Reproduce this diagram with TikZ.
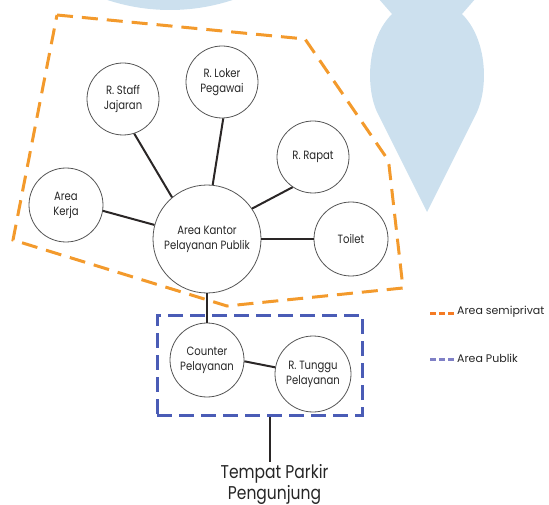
\documentclass[tikz,border=0pt]{standalone}
\usepackage{fontspec}
\setmainfont{Poppins}[FakeStretch=0.84]
\newfontfamily\legfont{Poppins}
\definecolor{bgblue}{HTML}{CCE0EE}
\definecolor{semior}{HTML}{F39A2C}
\definecolor{pubblue}{HTML}{4A5CB6}
\definecolor{legor}{HTML}{F47B24}
\definecolor{legblue}{HTML}{7F80C6}
\definecolor{txt}{HTML}{262626}
\definecolor{ring}{HTML}{555555}
\definecolor{link}{HTML}{2A2626}
\tikzset{
  room/.style={circle, draw=ring, line width=0.8pt, inner sep=0pt, align=center,
    text=txt, font=\fontsize{12}{15}\selectfont},
  linkline/.style={draw=link, line width=2pt},
  semiline/.style={draw=semior, line width=3pt, dash pattern=on 16pt off 9pt},
  publine/.style={draw=pubblue, line width=3pt, dash pattern=on 15pt off 7pt},
  legtext/.style={anchor=west, text=txt, font=\legfont\fontsize{11}{13}\selectfont, inner sep=0pt}
}
\begin{document}
\begin{tikzpicture}[x=1pt,y=-1pt]
\useasboundingbox (0,0) rectangle (549,505);
\begin{scope}
\clip (0,0) rectangle (549,505);
% background shapes
\fill[bgblue] (170,-190) circle (200);
\fill[bgblue] (427,212) -- (377,112) .. controls (366,88) and (366,40) .. (392,14)
  -- (378,-2) -- (476,-2) -- (462,14) .. controls (488,40) and (488,88) .. (477,112) -- cycle;
\end{scope}
% semiprivate area
\draw[semiline, line join=miter] (57,15) -- (305,39) -- (386,157) -- (389,165) -- (403,288)
  -- (227,306) -- (13,240) -- cycle;
% public area
\node[publine, rectangle, minimum width=205pt, minimum height=100pt, inner sep=0pt] (publik) at (259.5,365) {};
% rooms
\node[room, minimum size=108pt] (kantor) at (207,239) {Area Kantor\\Pelayanan Publik};
\node[room, minimum size=74pt] (kerja) at (66,205) {Area\\Kerja};
\node[room, minimum size=72pt] (staff) at (123,99) {R. Staff\\Jajaran};
\node[room, minimum size=72pt] (loker) at (222,82) {R. Loker\\Pegawai};
\node[room, minimum size=72pt] (rapat) at (313,157) {R. Rapat};
\node[room, minimum size=74pt] (toilet) at (351,239) {Toilet};
\node[room, minimum size=74pt] (counter) at (207,360) {Counter\\Pelayanan};
\node[room, minimum size=76pt] (tunggu) at (313,374) {R. Tunggu\\Pelayanan};
% links
\draw[linkline] (kerja.-9) -- (kantor.165);
\draw[linkline] (staff.-72) -- (kantor.130);
\draw[linkline] (loker.-88) -- (kantor.84);
\draw[linkline] (kantor.34) -- (rapat.-124);
\draw[linkline] (kantor.0) -- (toilet.180);
\draw[linkline] (kantor.south) -- (counter.north);
\draw[linkline] (counter.-2) -- (tunggu.170);
% parking
\node[text=txt, font=\fontsize{18.5}{21}\selectfont, align=center, inner sep=0pt] (parkir) at (274.5,484) {Tempat Parkir\\Pengunjung};
\coordinate (ptop) at (270,462);
\draw[linkline] (publik.south -| ptop) -- (ptop);
% legend
\coordinate (l1a) at (430,313);
\coordinate (l1b) at (454,313);
\coordinate (l2a) at (430,359);
\coordinate (l2b) at (454,359);
\draw[draw=legor, line width=3pt, dash pattern=on 6pt off 3pt] (l1a) -- (l1b);
\draw[draw=legblue, line width=3pt, dash pattern=on 6pt off 3pt] (l2a) -- (l2b);
\node[legtext] (leg1) at (457,312) {Area semiprivat};
\node[legtext] (leg2) at (457,358) {Area Publik};
\end{tikzpicture}
\end{document}
